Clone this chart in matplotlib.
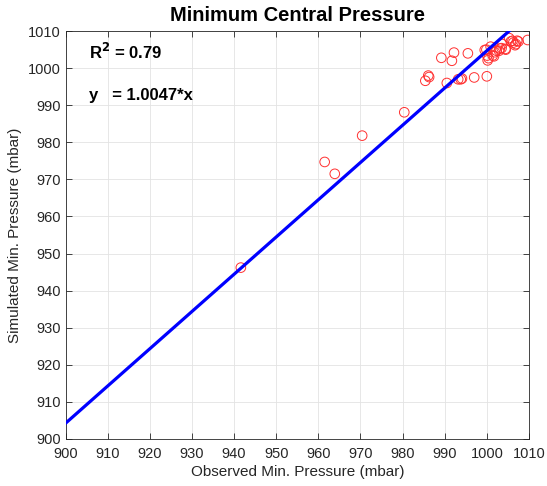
import numpy as np
import matplotlib
matplotlib.use("Agg")
import matplotlib.pyplot as plt

plt.rcParams['font.family'] = ['Liberation Sans', 'DejaVu Sans']

# observed vs simulated minimum central pressure (mbar)
observed = [941.6, 961.5, 963.9, 970.4, 980.4, 985.4, 986.1, 986.3, 989.2, 990.5,
            991.7, 992.2, 993.2, 993.8, 994.1, 995.5, 997.0, 999.5, 999.9, 1000.0,
            1000.1, 1000.2, 1000.4, 1000.9, 1001.4, 1001.7, 1001.9, 1002.3, 1002.9, 1003.1,
            1003.5, 1003.7, 1004.4, 1004.5, 1005.3, 1005.7, 1006.1, 1006.3, 1006.7, 1006.9,
            1007.2, 1007.5, 1009.7]
simulated = [946.2, 974.7, 971.5, 981.8, 988.1, 996.6, 998.0, 997.6, 1002.8, 996.0,
             1002.0, 1004.2, 997.0, 997.0, 997.2, 1004.0, 997.5, 1004.9, 1005.0, 997.8,
             1003.4, 1002.1, 1002.7, 1005.8, 1003.4, 1003.2, 1004.3, 1004.7, 1004.7, 1005.3,
             1005.4, 1006.5, 1005.2, 1005.0, 1008.1, 1007.2, 1007.4, 1006.9, 1006.2, 1006.5,
             1007.4, 1007.2, 1007.6]

slope = 1.0047
r2 = 0.79

fig = plt.figure(figsize=(5.47, 4.86), dpi=100)
ax = fig.add_axes([0.120, 0.097, 0.847, 0.839])

xfit = np.array([900, 1010])
ax.plot(xfit, slope * xfit, color='#0000ff', lw=2.3, zorder=3)
ax.scatter(observed, simulated, s=48, facecolors='none', edgecolors='#ff3030',
           linewidths=0.7, zorder=2)

ax.set_xlim(900, 1010)
ax.set_ylim(900, 1010)
ticks = np.arange(900, 1011, 10)
ax.set_xticks(ticks)
ax.set_yticks(ticks)
ax.tick_params(direction='in', length=4, width=0.6, colors='#262626', labelsize=10.5,
               top=True, right=True)
ax.tick_params(axis='x', pad=6)
for s in ax.spines.values():
    s.set_color('#262626')
    s.set_linewidth(0.6)
ax.grid(True, color='#e3e3e3', lw=0.6)
ax.set_axisbelow(True)

ax.set_xlabel('Observed Min. Pressure (mbar)', fontsize=11, color='#262626', labelpad=3)
ax.set_ylabel('Simulated Min. Pressure (mbar)', fontsize=11, color='#262626')
ax.set_title('Minimum Central Pressure', fontsize=14.5, fontweight='bold', pad=7)

ax.text(905.5, 1004.3, r'R$^\mathbf{2}$ = %.2f' % r2, fontsize=12, fontweight='bold',
        va='center')
ax.text(905.5, 992.5, 'y   = %.4f*x' % slope, fontsize=12, fontweight='bold', va='center')

fig.savefig('out.png', dpi=100)
